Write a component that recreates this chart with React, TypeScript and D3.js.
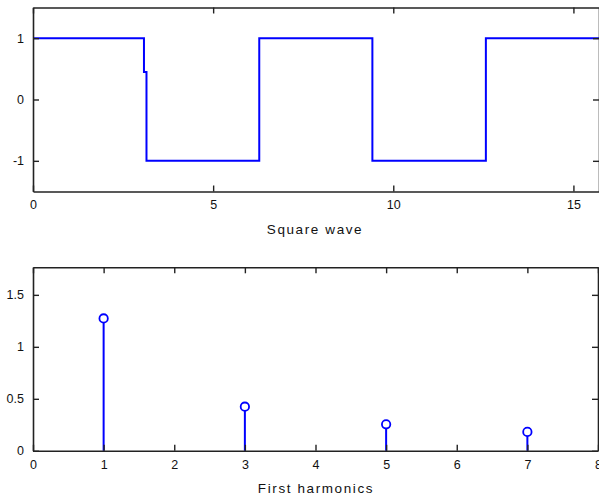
import React, { useEffect, useRef } from 'react';
import * as d3 from 'd3';

const waveT = [0, 3.08, 3.08, 3.15, 3.15, 6.28, 6.28, 9.42, 9.42, 12.57, 12.57, 15.71];
const waveY = [1, 1, 0.45, 0.45, -1, -1, 1, 1, -1, -1, 1, 1];

// first harmonics (stem plot)
const harmK = [1, 3, 5, 7];
const harmA = [1.273, 0.424, 0.255, 0.182];

const waveXTicks = [0, 5, 10, 15];
const waveYTicks = [-1, 0, 1];
const harmXTicks = [0, 1, 2, 3, 4, 5, 6, 7, 8];
const harmYTicks = [0, 0.5, 1, 1.5];

const FONT = 'Arial, "Liberation Sans", sans-serif';

const App: React.FC = () => {
  const svgRef = useRef<SVGSVGElement | null>(null);

  useEffect(() => {
    if (!svgRef.current) return;
    const svg = d3.select(svgRef.current);
    svg.selectAll('*').remove();

    const left = 33;
    const right = 599;

    const drawAxes = (
      x: d3.ScaleLinear<number, number>,
      y: d3.ScaleLinear<number, number>,
      xt: number[],
      yt: number[],
      yFmt: (d: number) => string
    ) => {
      const [x0, x1] = x.range();
      const [y0, y1] = y.range(); // y0 bottom, y1 top
      const style = (g: d3.Selection<SVGGElement, unknown, null, undefined>, labels: boolean) => {
        g.selectAll('.domain').attr('stroke', '#222').attr('stroke-width', 1.6);
        g.selectAll('.tick line').attr('stroke', '#222').attr('stroke-width', 1.4);
        g.selectAll('.tick text')
          .attr('fill', '#111')
          .attr('font-family', FONT)
          .attr('font-size', 12.5)
          .style('display', labels ? null : 'none');
      };
      svg.append('g')
        .attr('transform', `translate(0,${y0})`)
        .call(d3.axisBottom(x).tickValues(xt).tickSizeInner(-6).tickSizeOuter(0).tickPadding(9).tickFormat(d => `${d}`))
        .call(g => style(g, true));
      svg.append('g')
        .attr('transform', `translate(0,${y1})`)
        .call(d3.axisTop(x).tickValues(xt).tickSizeInner(-6).tickSizeOuter(0))
        .call(g => style(g, false));
      svg.append('g')
        .attr('transform', `translate(${x0},0)`)
        .call(d3.axisLeft(y).tickValues(yt).tickSizeInner(-6).tickSizeOuter(0).tickPadding(9).tickFormat(d => yFmt(+d)))
        .call(g => style(g, true));
      svg.append('g')
        .attr('transform', `translate(${x1},0)`)
        .call(d3.axisRight(y).tickValues(yt).tickSizeInner(-6).tickSizeOuter(0))
        .call(g => style(g, false));
    };

    const label = (text: string, x: number, y: number) => {
      svg.append('text')
        .attr('x', x)
        .attr('y', y)
        .attr('text-anchor', 'middle')
        .attr('font-family', FONT)
        .attr('font-size', 13.5)
        .attr('letter-spacing', 1.6)
        .attr('fill', '#111')
        .text(text);
    };

    // Top: square wave
    const x1 = d3.scaleLinear().domain([0, 15.71]).range([left, right]);
    const y1 = d3.scaleLinear().domain([-1.5, 1.5]).range([191.5, 7.5]);
    const wave = waveT.map((t, i) => [t, waveY[i]] as [number, number]);
    svg.append('path')
      .datum(wave)
      .attr('fill', 'none')
      .attr('stroke', '#0000ff')
      .attr('stroke-width', 2)
      .attr('d', d3.line<[number, number]>().x(d => x1(d[0])).y(d => y1(d[1])));
    drawAxes(x1, y1, waveXTicks, waveYTicks, d => `${d}`);
    label('Square wave', 315, 234);

    // Bottom: harmonics stem plot
    const x2 = d3.scaleLinear().domain([0, 8]).range([left, 598]);
    const y2 = d3.scaleLinear().domain([0, 1.765]).range([450.8, 267.3]);
    const stems = svg.append('g');
    harmK.forEach((k, i) => {
      stems.append('line')
        .attr('x1', x2(k)).attr('x2', x2(k))
        .attr('y1', y2(0)).attr('y2', y2(harmA[i]) + 4)
        .attr('stroke', '#0000ff').attr('stroke-width', 2);
      stems.append('circle')
        .attr('cx', x2(k)).attr('cy', y2(harmA[i]))
        .attr('r', 4.2)
        .attr('fill', 'none')
        .attr('stroke', '#0000ff').attr('stroke-width', 1.8);
    });
    drawAxes(x2, y2, harmXTicks, harmYTicks, d => `${d}`);
    label('First harmonics', 316, 493);
  }, []);

  return (
    <svg
      ref={svgRef}
      width={599}
      height={500}
      style={{ position: 'absolute', left: 0, top: 0, background: '#fff' }}
    />
  );
};

export default App;
